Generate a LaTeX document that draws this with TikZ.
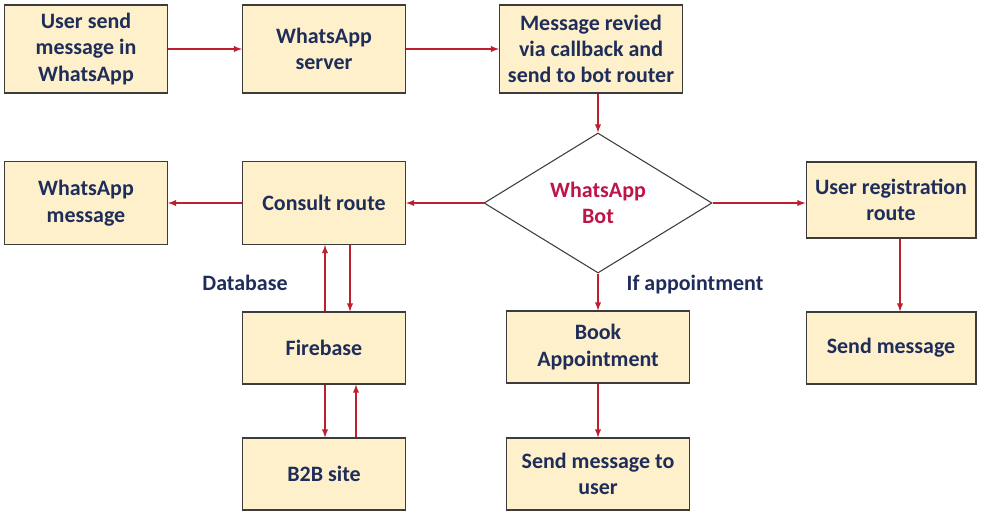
\documentclass[tikz,border=0pt]{standalone}
\usepackage{fontspec}
\setmainfont{Carlito}
\definecolor{myboxfill}{RGB}{253,240,203}
\definecolor{mynavy}{RGB}{31,45,90}
\definecolor{myarrowred}{RGB}{190,30,45}
\definecolor{mybotred}{RGB}{190,20,72}
\definecolor{myborder}{RGB}{60,60,60}
\usetikzlibrary{arrows,positioning,shapes.geometric}
\tikzset{>=latex}

\begin{document}
\begin{tikzpicture}[x=0.02cm, y=-0.02cm, box/.style = {draw=myborder, semithick, fill=myboxfill, minimum width=3.26cm, minimum height=1.76cm, align=center, text=mynavy, font=\bfseries\fontsize{12.5}{15}\selectfont, inner sep=0.5mm}, short/.style = {minimum height=1.44cm}, link/.style = {->, myarrowred, semithick}, note/.style = {text=mynavy, font=\bfseries\fontsize{12.5}{15}\selectfont}]
    \useasboundingbox (0,0) rectangle (999,515);
    % top row
    \node[box] (user) at (86,49) {User send\\message in\\WhatsApp};
    \node[box] (server) at (324,49) {WhatsApp\\server};
    \node[box, minimum width=3.66cm] (callback) at (591,49) {Message revied\\via callback and\\send to bot router};
    % bot
    \node[draw=myborder, semithick, fill=white, diamond, inner sep=0mm, minimum width=4.56cm, minimum height=2.8cm, text=mybotred, align=center, font=\bfseries\fontsize{12.5}{15}\selectfont] (bot) at (598,203) {WhatsApp\\Bot};
    % middle row
    \node[box, minimum height=1.66cm] (wamsg) at (86,203) {WhatsApp\\message};
    \node[box, minimum height=1.66cm] (consult) at (324,203) {Consult route};
    \node[box, minimum width=3.4cm, minimum height=1.52cm] (register) at (891,200) {User registration\\route};
    % lower rows
    \node[box, short] (firebase) at (324,348) {Firebase};
    \node[box, short] (b2b) at (324,474) {B2B site};
    \node[box, short, minimum width=3.66cm] (book) at (598,347) {Book\\Appointment};
    \node[box, short, minimum width=3.66cm] (sendusr) at (598,474) {Send message to\\user};
    \node[box, short, minimum width=3.4cm] (sendmsg) at (891,348) {Send message};
    % labels
    \node[note] (dblabel) at (245,283) {Database};
    \node[note] (iflabel) at (695,285) {If appointment};

    \draw[link] (user) -- (server);
    \draw[link] (server) -- (callback);
    \draw[link] (callback.south -| bot.north) -- (bot.north);
    \draw[link] (bot.west) -- (consult.east);
    \draw[link] (consult) -- (wamsg);
    \draw[link] (bot.east) -- (register.west |- bot.east);
    \draw[link] ([xshift=0.18cm]register.south) -- ([xshift=0.18cm]sendmsg.north);
    \draw[link] (bot.south) -- (book.north);
    \draw[link] (book) -- (sendusr);
    \draw[link] ([xshift=0.02cm]firebase.north) -- ([xshift=0.02cm]consult.south);
    \draw[link] ([xshift=0.52cm]consult.south) -- ([xshift=0.52cm]firebase.north);
    \draw[link] ([xshift=0.02cm]firebase.south) -- ([xshift=0.02cm]b2b.north);
    \draw[link] ([xshift=0.64cm]b2b.north) -- ([xshift=0.64cm]firebase.south);
\end{tikzpicture}
\end{document}
